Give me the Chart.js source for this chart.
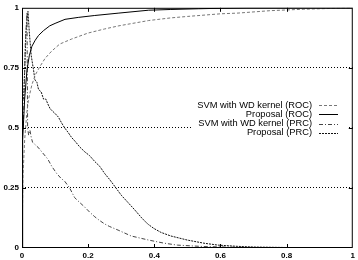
<!DOCTYPE html>
<html lang="en">

<head>
    <meta charset="UTF-8">
    <title>ROC / PRC</title>
    <script src="https://cdn.jsdelivr.net/npm/chart.js"></script>
    <style>
        html, body {
            margin: 0;
            padding: 0;
            background-color: #ffffff;
        }

        .grafico {
            width: 358px;
            height: 260px;
        }
    </style>
</head>

<body>
    <div class="grafico">
        <canvas id="myChart" width="358" height="260"></canvas>
    </div>

    <script>
        // series names (legend order)
        var seriesNames = ['SVM with WD kernel (ROC)', 'Proposal (ROC)', 'SVM with WD kernel (PRC)', 'Proposal (PRC)'];

        // tick labels
        var xTicks = [0, 0.2, 0.4, 0.6, 0.8, 1];
        var yTicks = [0, 0.25, 0.5, 0.75, 1];

        // SVM with WD kernel, ROC
        var svmRocX = [0, 0.003, 0.008, 0.015, 0.02, 0.03, 0.04, 0.054, 0.07, 0.09, 0.114, 0.15, 0.2, 0.25, 0.293, 0.383, 0.45, 0.5, 0.6, 0.653, 0.75, 0.85, 0.95, 1];
        var svmRocY = [0, 0.3, 0.45, 0.57, 0.62, 0.68, 0.72, 0.755, 0.79, 0.82, 0.849, 0.87, 0.895, 0.912, 0.925, 0.947, 0.958, 0.964, 0.975, 0.978, 0.988, 0.994, 0.998, 1];

        // Proposal, ROC
        var propRocX = [0, 0.002, 0.008, 0.015, 0.022, 0.03, 0.04, 0.05, 0.065, 0.084, 0.1, 0.13, 0.17, 0.22, 0.293, 0.383, 0.45, 0.533, 0.6, 0.68, 1];
        var propRocY = [0, 0.45, 0.62, 0.74, 0.8, 0.84, 0.865, 0.885, 0.905, 0.925, 0.935, 0.952, 0.96, 0.968, 0.978, 0.99, 0.993, 0.996, 0.998, 1, 1];

        // SVM with WD kernel, PRC
        var svmPrcX = [0.004, 0.01, 0.015, 0.016, 0.017, 0.02, 0.024, 0.028, 0.032, 0.04, 0.048, 0.06, 0.078, 0.09, 0.105, 0.118, 0.129, 0.144, 0.159, 0.174, 0.19, 0.204, 0.22, 0.234, 0.25, 0.264, 0.293, 0.33, 0.383, 0.43, 0.47, 0.55, 0.65, 0.8, 1];
        var svmPrcY = [0.5, 0.85, 0.98, 0.75, 0.5, 0.47, 0.49, 0.46, 0.44, 0.43, 0.42, 0.4, 0.37, 0.34, 0.31, 0.29, 0.278, 0.25, 0.21, 0.19, 0.17, 0.15, 0.13, 0.115, 0.1, 0.09, 0.073, 0.05, 0.033, 0.02, 0.012, 0.006, 0.003, 0.001, 0];

        // Proposal, PRC
        var propPrcX = [0.005, 0.012, 0.018, 0.022, 0.028, 0.035, 0.039, 0.045, 0.05, 0.058, 0.065, 0.072, 0.078, 0.085, 0.092, 0.1, 0.11, 0.12, 0.129, 0.14, 0.15, 0.16, 0.175, 0.19, 0.204, 0.22, 0.235, 0.25, 0.265, 0.284, 0.3, 0.32, 0.34, 0.362, 0.38, 0.398, 0.42, 0.45, 0.5, 0.55, 0.593, 0.65, 0.7, 0.8, 0.9, 1];
        var propPrcY = [0.62, 0.9, 0.985, 0.9, 0.8, 0.74, 0.7, 0.69, 0.66, 0.65, 0.62, 0.62, 0.6, 0.58, 0.57, 0.56, 0.545, 0.52, 0.5, 0.48, 0.46, 0.445, 0.42, 0.4, 0.385, 0.36, 0.34, 0.31, 0.285, 0.25, 0.22, 0.19, 0.16, 0.125, 0.1, 0.082, 0.065, 0.05, 0.033, 0.02, 0.012, 0.007, 0.004, 0.002, 0.001, 0];

        const puntos = (xs, ys) => xs.map((x, i) => ({ x: x, y: ys[i] }));
        const fuente = { family: '"Liberation Sans", Arial, sans-serif', size: 8, weight: 'bold' };

        // frame, inward ticks and the legend box
        const marco = {
            id: 'marco',
            afterDatasetsDraw(chart) {
                const ctx = chart.ctx;
                const a = chart.chartArea;
                const sx = chart.scales.x;
                const sy = chart.scales.y;

                ctx.save();
                ctx.strokeStyle = '#000';
                ctx.lineWidth = 1;
                ctx.setLineDash([]);
                ctx.beginPath();
                xTicks.slice(1, -1).forEach(v => {
                    const px = Math.round(sx.getPixelForValue(v)) + 0.5;
                    ctx.moveTo(px, a.bottom); ctx.lineTo(px, a.bottom - 4);
                    ctx.moveTo(px, a.top); ctx.lineTo(px, a.top + 4);
                });
                yTicks.slice(1, -1).forEach(v => {
                    const py = Math.round(sy.getPixelForValue(v)) + 0.5;
                    ctx.moveTo(a.left, py); ctx.lineTo(a.left + 4, py);
                    ctx.moveTo(a.right, py); ctx.lineTo(a.right - 4, py);
                });
                ctx.stroke();

                // legend
                ctx.fillStyle = '#fff';
                ctx.fillRect(192, 99, 156, 40);
                ctx.font = '9.3px "Liberation Sans", Arial, sans-serif';
                ctx.textAlign = 'right';
                ctx.textBaseline = 'middle';
                chart.data.datasets.forEach((ds, i) => {
                    const y = 105 + i * 9.3;
                    ctx.fillStyle = '#000';
                    ctx.fillText(ds.label, 312, y);
                    ctx.strokeStyle = ds.borderColor;
                    ctx.setLineDash(ds.borderDash || []);
                    ctx.beginPath();
                    ctx.moveTo(319, Math.round(y) + 0.5);
                    ctx.lineTo(338, Math.round(y) + 0.5);
                    ctx.stroke();
                });

                ctx.setLineDash([]);
                ctx.strokeStyle = '#000';
                ctx.strokeRect(a.left + 0.5, a.top + 0.5, a.right - a.left - 1, a.bottom - a.top - 1);
                ctx.restore();
            }
        };

        var ctx = document.getElementById('myChart');

        var myChart = new Chart(ctx, {
            type: 'scatter',
            data: {
                datasets: [{
                    label: seriesNames[0],
                    data: puntos(svmRocX, svmRocY),
                    borderColor: '#777',
                    borderDash: [3, 2]
                }, {
                    label: seriesNames[1],
                    data: puntos(propRocX, propRocY),
                    borderColor: '#000',
                    borderDash: []
                }, {
                    label: seriesNames[2],
                    data: puntos(svmPrcX, svmPrcY),
                    borderColor: '#444',
                    borderDash: [4, 2, 1, 2]
                }, {
                    label: seriesNames[3],
                    data: puntos(propPrcX, propPrcY),
                    borderColor: '#111',
                    borderDash: [2, 1]
                }]
            },
            options: {
                responsive: false,
                animation: false,
                datasets: {
                    scatter: {
                        showLine: true,
                        pointRadius: 0,
                        borderWidth: 1,
                        tension: 0
                    }
                },
                layout: {
                    padding: { top: 3, right: 2, left: 0, bottom: 0 }
                },
                plugins: {
                    legend: { display: false },
                    tooltip: { enabled: false }
                },
                scales: {
                    x: {
                        type: 'linear',
                        min: 0,
                        max: 1,
                        afterBuildTicks: s => { s.ticks = xTicks.map(v => ({ value: v })); },
                        afterFit: s => { s.height = 12; },
                        grid: { display: false, drawTicks: false },
                        border: { display: false },
                        ticks: {
                            padding: 3,
                            color: '#000',
                            maxRotation: 0,
                            callback: v => String(v),
                            font: fuente
                        }
                    },
                    y: {
                        min: 0,
                        max: 1,
                        afterBuildTicks: s => { s.ticks = yTicks.map(v => ({ value: v })); },
                        afterFit: s => { s.width = 22; },
                        grid: {
                            drawTicks: false,
                            color: c => (c.tick.value === 0 || c.tick.value === 1) ? 'rgba(0,0,0,0)' : '#000',
                            lineWidth: 1
                        },
                        border: { display: false, dash: [1, 2] },
                        ticks: {
                            padding: 3,
                            color: '#000',
                            callback: v => String(v),
                            font: fuente
                        }
                    }
                }
            },
            plugins: [marco]
        });
    </script>
</body>

</html>
